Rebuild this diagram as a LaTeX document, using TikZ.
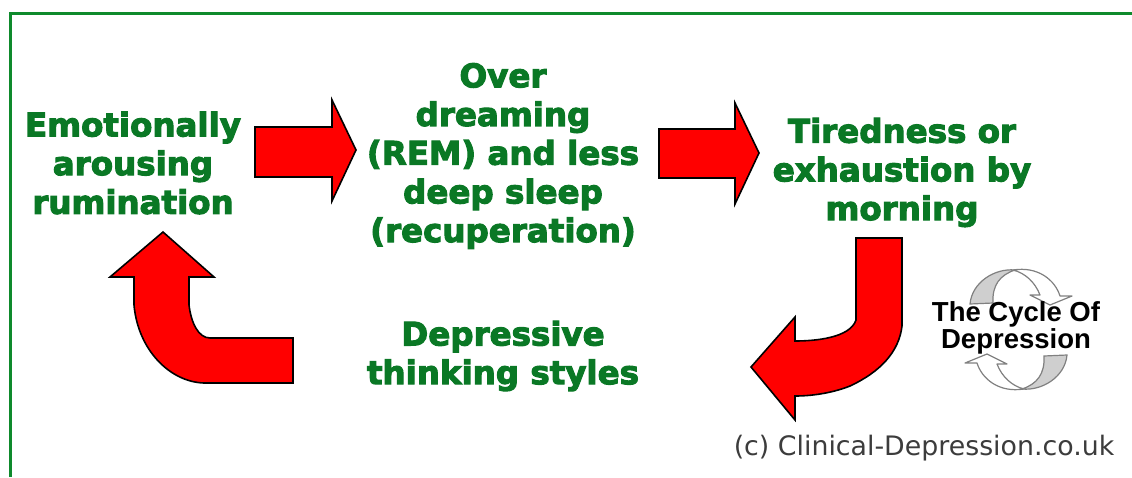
\documentclass[tikz,border=0pt]{standalone}
\usepackage{fontspec}
\setmainfont{DejaVu Sans}
\newfontfamily\heavyfont[FakeBold=3.2]{DejaVu Sans Bold}
\newfontfamily\iconfont{Liberation Sans}
\definecolor{framegreen}{HTML}{0E8A2C}
\definecolor{textgreen}{HTML}{0A7825}
\definecolor{iconfill}{HTML}{CFCFCF}
\definecolor{iconline}{HTML}{808080}
\definecolor{creditgray}{HTML}{3C3C3C}
\tikzset{
  label text/.style={text=textgreen,font=\heavyfont\fontsize{32.5}{38.7}\selectfont,align=center,inner sep=0pt,anchor=center},
  red arrow/.style={fill=red,draw=black,line width=1.6pt,line join=miter},
  cycle crescent/.style={fill=iconfill,draw=iconline,line width=1.2pt},
  cycle arrow/.style={fill=white,draw=iconline,line width=1.2pt,line join=round}
}
\begin{document}
\begin{tikzpicture}[x=1pt,y=-1pt]
\useasboundingbox (0,0) rectangle (1132,477);
% frame
\draw[framegreen,line width=2.6pt] (10.5,477) -- (10.5,13.5) -- (1132,13.5);
% block arrows
\draw[red arrow] (255,127) -- (332,127) -- (332,100) -- (356,150) -- (332,201) -- (332,177) -- (255,177) -- cycle;
\draw[red arrow] (659,129) -- (735,129) -- (735,103) -- (759,153) -- (735,204) -- (735,178) -- (659,178) -- cycle;
\draw[red arrow] (856,238) -- (902,238) -- (902,326) .. controls (899,352) and (880,372) .. (850,386) .. controls (835,392) and (815,396) .. (795,396) -- (795,420) -- (751,367) -- (795,317) -- (795,341) .. controls (815,341) and (850,338) .. (856,320) -- cycle;
\draw[red arrow] (293,338) -- (293,383) -- (204,383) .. controls (170,382) and (138,350) .. (134,305) -- (134,277) -- (110,277) -- (163,232) -- (214,277) -- (189,277) -- (189,305) .. controls (191,322) and (198,338) .. (210,338) -- cycle;
% cycle icon
\foreach \r in {0,180}{
  \begin{scope}[rotate around={\r:(1018.5,329.5)}]
    \draw[cycle crescent] (970,304) .. controls (972,282) and (995,268) .. (1015,270) .. controls (1000,275) and (992,285) .. (993,303) -- cycle;
    \draw[cycle arrow] (1013,270) .. controls (1038,266) and (1055,280) .. (1060,296) -- (1072,296) -- (1050,305) -- (1030,295) -- (1040,295) .. controls (1035,282) and (1025,273) .. (1013,270) -- cycle;
  \end{scope}
}
% labels
\node[label text] (rumination) at (133,163) {Emotionally\\arousing\\rumination};
\node[label text] (dreaming) at (503,156) {Over\\dreaming\\(REM) and less\\deep sleep\\(recuperation)};
\node[label text] (tiredness) at (902,172.5) {Tiredness or\\exhaustion by\\morning};
\node[label text] (thinking) at (503,356) {Depressive\\thinking styles};
\node[text=black,font=\iconfont\fontsize{27.5}{27.5}\selectfont\bfseries,align=center,inner sep=0pt] (cycle) at (1016,328) {The Cycle Of\\Depression};
\node[text=creditgray,font=\fontsize{26.8}{30}\selectfont,inner sep=0pt] (credit) at (924,448) {(c) Clinical-Depression.co.uk};
\end{tikzpicture}
\end{document}
